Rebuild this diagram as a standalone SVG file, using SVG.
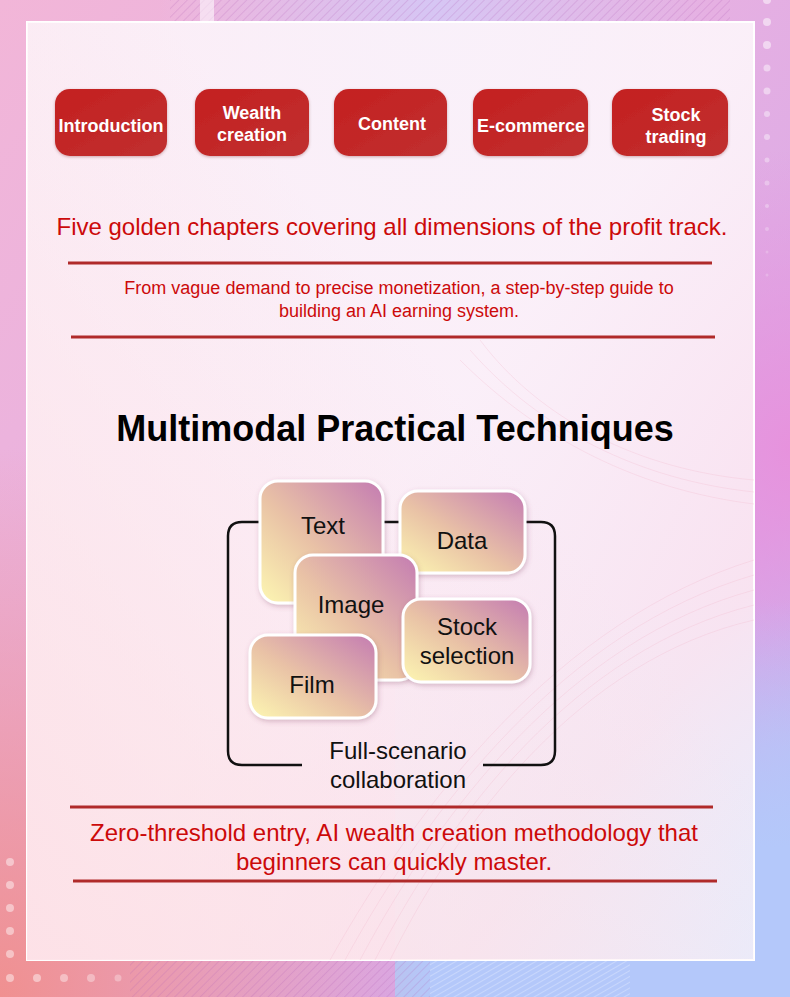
<svg xmlns="http://www.w3.org/2000/svg" width="790" height="997" viewBox="0 0 790 997">
<defs>
<linearGradient id="bgBase" x1="0" y1="0" x2="1" y2="1">
<stop offset="0" stop-color="#f2b6d8"/>
<stop offset="0.45" stop-color="#e6b0e2"/>
<stop offset="0.75" stop-color="#d8a8e8"/>
<stop offset="1" stop-color="#b0c8fa"/>
</linearGradient>
<radialGradient id="bgBL" cx="0" cy="1" r="0.55">
<stop offset="0" stop-color="#f09090" stop-opacity="1"/>
<stop offset="1" stop-color="#f09090" stop-opacity="0"/>
</radialGradient>
<radialGradient id="bgTop" cx="0.55" cy="0" r="0.35">
<stop offset="0" stop-color="#d6c6f4" stop-opacity="1"/>
<stop offset="1" stop-color="#d6c6f4" stop-opacity="0"/>
</radialGradient>
<radialGradient id="bgRM" cx="1" cy="0.45" r="0.3">
<stop offset="0" stop-color="#e890dc" stop-opacity="0.9"/>
<stop offset="1" stop-color="#e890dc" stop-opacity="0"/>
</radialGradient>
<linearGradient id="bgBR" x1="0" y1="0" x2="0" y2="1">
<stop offset="0.6" stop-color="#b4c8fa" stop-opacity="0"/>
<stop offset="0.85" stop-color="#b4c8fa" stop-opacity="1"/>
</linearGradient>
<linearGradient id="panelFill" x1="0" y1="0" x2="1" y2="1">
<stop offset="0" stop-color="#fcf4fa"/>
<stop offset="0.5" stop-color="#fdf6fb"/>
<stop offset="0.8" stop-color="#fbeaf2"/>
<stop offset="1" stop-color="#eef0fc"/>
</linearGradient>
<linearGradient id="panelBL" x1="0" y1="1" x2="0.6" y2="0.4">
<stop offset="0" stop-color="#fde0e6" stop-opacity="0.9"/>
<stop offset="1" stop-color="#fde0e6" stop-opacity="0"/>
</linearGradient>
<linearGradient id="btnGrad" x1="0" y1="0" x2="1" y2="1">
<stop offset="0" stop-color="#c42020"/>
<stop offset="1" stop-color="#c03030"/>
</linearGradient>
<linearGradient id="tileGrad" x1="0" y1="1" x2="1" y2="0">
<stop offset="0" stop-color="#fdf7b2"/>
<stop offset="0.45" stop-color="#e9c2a6"/>
<stop offset="1" stop-color="#c47cb2"/>
</linearGradient>
<pattern id="hatch" width="6" height="6" patternUnits="userSpaceOnUse" patternTransform="rotate(45)">
<line x1="0" y1="0" x2="0" y2="6" stroke="#b060b8" stroke-width="0.8" stroke-opacity="0.55"/>
</pattern>
<pattern id="hatchW" width="5" height="5" patternUnits="userSpaceOnUse" patternTransform="rotate(60)">
<line x1="0" y1="0" x2="0" y2="5" stroke="#ffffff" stroke-width="0.8" stroke-opacity="0.7"/>
</pattern>
<filter id="tileShadow" x="-20%" y="-20%" width="140%" height="140%">
<feDropShadow dx="1" dy="2" stdDeviation="2.5" flood-color="#804060" flood-opacity="0.3"/>
</filter>
<filter id="btnShadow" x="-20%" y="-20%" width="140%" height="140%">
<feDropShadow dx="0" dy="1" stdDeviation="1.5" flood-color="#600000" flood-opacity="0.3"/>
</filter>
<style>
.btn { fill: url(#btnGrad); filter: url(#btnShadow); }
.btnTxt { font-family: "Liberation Sans", Arial, sans-serif; font-weight: bold; font-size: 18px; fill: #ffffff; text-anchor: middle; }
.red { font-family: "Liberation Sans", Arial, sans-serif; fill: #cc0a0a; text-anchor: middle; }
.rule { stroke: #b02a2a; stroke-width: 3; }
.tile { fill: url(#tileGrad); stroke: #ffffff; stroke-width: 3; filter: url(#tileShadow); }
.tileTxt { font-family: "Liberation Sans", Arial, sans-serif; font-size: 24px; fill: #111111; text-anchor: middle; }
</style>
</defs>

<!-- background -->
<rect x="0" y="0" width="790" height="997" fill="url(#bgBase)"/>
<rect x="0" y="0" width="790" height="997" fill="url(#bgTop)"/>
<rect x="0" y="0" width="790" height="997" fill="url(#bgRM)"/>
<rect x="395" y="0" width="395" height="997" fill="url(#bgBR)"/>
<rect x="0" y="0" width="790" height="997" fill="url(#bgBL)"/>
<rect x="170" y="0" width="560" height="22" fill="url(#hatch)"/>
<rect x="200" y="0" width="14" height="22" fill="#ffffff" fill-opacity="0.55"/>
<rect x="130" y="960" width="300" height="37" fill="url(#hatch)"/>
<rect x="430" y="960" width="200" height="37" fill="url(#hatchW)"/>

<!-- dots -->
<g fill="#ffffff">
<circle cx="767" cy="0" r="4" opacity="0.5"/>
<circle cx="767" cy="22" r="4" opacity="0.5"/>
<circle cx="767" cy="45" r="4" opacity="0.5"/>
<circle cx="767" cy="68" r="3.5" opacity="0.45"/>
<circle cx="767" cy="91" r="3.5" opacity="0.45"/>
<circle cx="767" cy="114" r="3" opacity="0.4"/>
<circle cx="767" cy="137" r="3" opacity="0.4"/>
<circle cx="767" cy="160" r="2.5" opacity="0.35"/>
<circle cx="767" cy="183" r="2.5" opacity="0.3"/>
<circle cx="767" cy="206" r="2" opacity="0.3"/>
<circle cx="767" cy="229" r="2" opacity="0.25"/>
<circle cx="767" cy="252" r="1.5" opacity="0.2"/>
<circle cx="767" cy="275" r="1.5" opacity="0.2"/>
<circle cx="10" cy="862" r="4" opacity="0.45"/>
<circle cx="10" cy="885" r="4" opacity="0.45"/>
<circle cx="10" cy="908" r="4" opacity="0.45"/>
<circle cx="10" cy="931" r="4" opacity="0.45"/>
<circle cx="10" cy="954" r="4" opacity="0.45"/>
<circle cx="10" cy="978" r="4" opacity="0.45"/>
<circle cx="37" cy="978" r="4" opacity="0.45"/>
<circle cx="64" cy="978" r="4" opacity="0.4"/>
<circle cx="91" cy="978" r="4" opacity="0.35"/>
<circle cx="118" cy="978" r="3.5" opacity="0.3"/>
</g>

<!-- panel -->
<rect x="27" y="22" width="727" height="938" fill="url(#panelFill)" fill-opacity="0.9" stroke="#ffffff" stroke-width="2"/>
<rect x="27" y="22" width="727" height="938" fill="url(#panelBL)"/>
<g fill="none" stroke="#f0b8cc" stroke-width="0.6" stroke-opacity="0.5">
<path d="M330,960 C420,800 560,620 754,560"/>
<path d="M345,960 C430,805 565,630 754,575"/>
<path d="M360,960 C440,810 570,640 754,590"/>
<path d="M375,960 C450,815 575,650 754,605"/>
<path d="M390,960 C460,820 580,660 754,620"/>
<path d="M480,340 C540,420 640,470 754,480"/>
<path d="M470,350 C540,430 640,480 754,492"/>
<path d="M460,360 C540,440 640,490 754,504"/>
</g>

<!-- chapter buttons -->
<g id="node-introduction">
<rect class="btn" x="55" y="89" width="112" height="67" rx="15"/>
<text class="btnTxt" x="111" y="132">Introduction</text>
</g>
<g id="node-wealth-creation">
<rect class="btn" x="195" y="89" width="114" height="67" rx="15"/>
<text class="btnTxt" x="252" y="119">Wealth</text>
<text class="btnTxt" x="252" y="141">creation</text>
</g>
<g id="node-content">
<rect class="btn" x="334" y="89" width="113" height="67" rx="15"/>
<text class="btnTxt" x="392" y="130">Content</text>
</g>
<g id="node-ecommerce">
<rect class="btn" x="473" y="89" width="115" height="67" rx="15"/>
<text class="btnTxt" x="531" y="132">E-commerce</text>
</g>
<g id="node-stock-trading">
<rect class="btn" x="612" y="89" width="116" height="67" rx="15"/>
<text class="btnTxt" x="676" y="121">Stock</text>
<text class="btnTxt" x="676" y="143">trading</text>
</g>

<!-- intro text -->
<g id="node-intro-text">
<text class="red" x="392" y="235" font-size="24">Five golden chapters covering all dimensions of the profit track.</text>
<line class="rule" x1="68" y1="263" x2="712" y2="263"/>
<text class="red" x="399" y="294" font-size="18">From vague demand to precise monetization, a step-by-step guide to</text>
<text class="red" x="399" y="317" font-size="18">building an AI earning system.</text>
<line class="rule" x1="71" y1="337" x2="715" y2="337"/>
</g>

<!-- title -->
<text id="node-title" x="395" y="441" font-family="Liberation Sans, Arial, sans-serif" font-weight="bold" font-size="36" fill="#000000" text-anchor="middle">Multimodal Practical Techniques</text>

<!-- connectors: bracket -->
<g id="connectors">
<path d="M302,765 H242 Q228,765 228,751 V536 Q228,522 242,522 H541 Q555,522 555,536 V751 Q555,765 541,765 H483" fill="none" stroke="#111111" stroke-width="2.5"/>
</g>

<!-- tiles -->
<g id="node-text">
<rect class="tile" x="260" y="481" width="123" height="122" rx="18"/>
<text class="tileTxt" x="323" y="534">Text</text>
</g>
<g id="node-data">
<rect class="tile" x="400" y="491" width="125" height="82" rx="18"/>
<text class="tileTxt" x="462" y="549">Data</text>
</g>
<g id="node-image">
<rect class="tile" x="295" y="555" width="122" height="125" rx="18"/>
<text class="tileTxt" x="351" y="613">Image</text>
</g>
<g id="node-stock-selection">
<rect class="tile" x="403" y="599" width="127" height="83" rx="18"/>
<text class="tileTxt" x="467" y="635">Stock</text>
<text class="tileTxt" x="467" y="664">selection</text>
</g>
<g id="node-film">
<rect class="tile" x="250" y="635" width="126" height="83" rx="18"/>
<text class="tileTxt" x="312" y="693">Film</text>
</g>
<g id="node-full-scenario">
<text class="tileTxt" x="398" y="759">Full-scenario</text>
<text class="tileTxt" x="398" y="788">collaboration</text>
</g>

<!-- bottom text -->
<g id="node-bottom-text">
<line class="rule" x1="70" y1="807" x2="713" y2="807"/>
<text class="red" x="394" y="841" font-size="24">Zero-threshold entry, AI wealth creation methodology that</text>
<text class="red" x="394" y="870" font-size="24">beginners can quickly master.</text>
<line class="rule" x1="73" y1="881" x2="717" y2="881"/>
</g>
</svg>
